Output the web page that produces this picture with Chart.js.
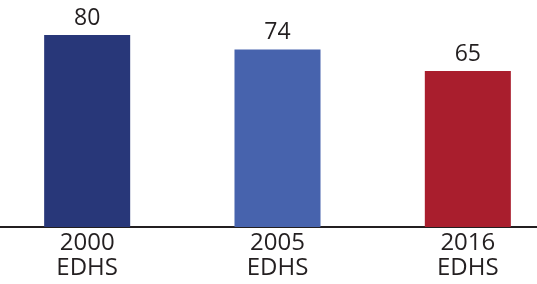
<!DOCTYPE html>
<html>
<head>
<meta charset="utf-8">
<script src="https://cdn.jsdelivr.net/npm/chart.js@4"></script>
<style>
  html, body { margin: 0; padding: 0; background: #fff; overflow: hidden; }
  #wrap { position: absolute; left: -8px; top: 5px; width: 571px; height: 284px; }
</style>
</head>
<body>
<div id="wrap"><canvas id="chart"></canvas></div>
<script>
const surveyYears = ["2000", "2005", "2016"];
const surveyNames = ["EDHS", "EDHS", "EDHS"];
const values = [80, 74, 65];
const barColors = ["#283779", "#4763ad", "#a91e2d"];

const valueLabels = {
  id: "valueLabels",
  afterDatasetsDraw(chart) {
    const ctx = chart.ctx;
    ctx.save();
    ctx.font = "23px 'Open Sans'";
    ctx.fillStyle = "#231f20";
    ctx.textAlign = "center";
    ctx.textBaseline = "bottom";
    chart.getDatasetMeta(0).data.forEach((bar, i) => {
      ctx.fillText(values[i], bar.x, bar.y - 5);
    });
    ctx.restore();
  }
};

new Chart(document.getElementById("chart").getContext("2d"), {
  type: "bar",
  data: {
    labels: surveyYears.map((y, i) => [y, surveyNames[i]]),
    datasets: [{ data: values, backgroundColor: barColors, barPercentage: 0.452, categoryPercentage: 1 }]
  },
  options: {
    responsive: true,
    maintainAspectRatio: false,
    animation: false,
    layout: { padding: { top: 0, bottom: 4, left: 0, right: 0 } },
    plugins: { legend: { display: false }, tooltip: { enabled: false } },
    scales: {
      x: {
        grid: { display: false, drawTicks: false },
        border: { display: true, color: "#231f20", width: 2 },
        ticks: { color: "#231f20", padding: 4, font: { family: "'Open Sans'", size: 24, lineHeight: 1.04 } }
      },
      y: { display: false, min: 0, max: 92.5 }
    }
  },
  plugins: [valueLabels]
});
</script>
</body>
</html>
